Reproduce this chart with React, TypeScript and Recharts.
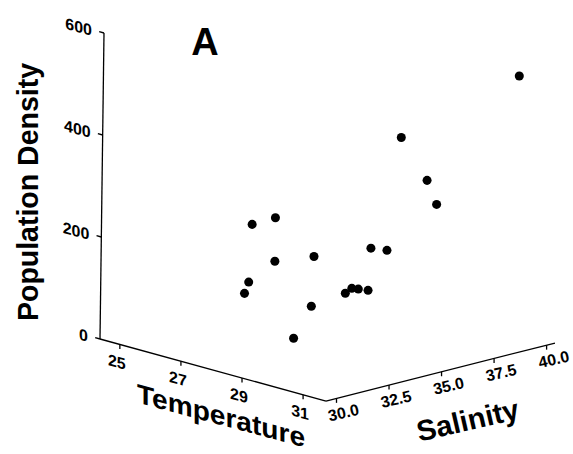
import React from "react";
import {
    ScatterChart,
    Scatter,
    XAxis,
    YAxis,
    ZAxis,
    ReferenceLine,
    Customized,
} from "recharts";

// observations (temperature °C, salinity, population density)
const temperature = [28.6, 28.6, 28.3, 29.2, 28.7, 30.6, 30.1, 28.9, 29.7, 29.5, 29.3, 30.1, 29.3, 30.1, 29.4, 29.9, 29.8, 31.2];
const salinity = [30.2, 30.4, 31.0, 30.8, 31.5, 30.6, 31.2, 32.1, 33.4, 34.0, 34.6, 33.9, 35.2, 34.8, 36.5, 37.0, 37.6, 39.5];
const density = [152, 172, 274, 304, 203, 253, 141, 49, 137, 137, 126, 144, 200, 213, 405, 324, 269, 524];

const tempTicks = [25, 27, 29, 31];
const salTicks = [30, 32.5, 35, 37.5, 40];
const densTicks = [0, 200, 400, 600];

const W = 573;
const H = 454;

// 3D box extents
const T_MIN = 24.35;
const T_MAX = 31.75;
const S_MIN = 29.5;
const S_MAX = 40.4;
const Z_MAX = 600;

// oblique projection of the box onto the chart plane
const ORIGIN = { x: 100, y: 339 };
const T_VEC = { x: 30.54, y: 8.38 };
const S_VEC = { x: 21.01, y: -5.32 };
const Z_VEC = { x: 0, y: -0.51 };
const Z_LEAN = 4 / 600;

function proj(t: number, s: number, z: number, lean = false) {
    const dt = t - T_MIN;
    const ds = s - S_MIN;
    return {
        x: ORIGIN.x + dt * T_VEC.x + ds * S_VEC.x + z * Z_VEC.x + (lean ? z * Z_LEAN : 0),
        y: ORIGIN.y + dt * T_VEC.y + ds * S_VEC.y + z * Z_VEC.y,
    };
}

const points = temperature.map((t, i) => proj(t, salinity[i], density[i]));

const font = "'Liberation Sans', Arial, Helvetica, sans-serif";
const axisStyle = { stroke: "#000", strokeWidth: 1.3 };

function Labels() {
    return (
        <g fontFamily={font} fontWeight="bold" fill="#000">
            <text x={205} y={55} fontSize={38} textAnchor="middle">A</text>

            <text
                transform="translate(38,192) rotate(-90)"
                fontSize={29}
                textAnchor="middle"
                textLength={258}
                lengthAdjust="spacingAndGlyphs"
            >
                Population Density
            </text>
            <text
                transform="translate(221,425) skewY(15)"
                fontSize={27}
                textAnchor="middle"
                textLength={168}
                lengthAdjust="spacingAndGlyphs"
            >
                Temperature
            </text>
            <text
                transform="translate(470,430) rotate(-13)"
                fontSize={29}
                textAnchor="middle"
                textLength={104}
                lengthAdjust="spacingAndGlyphs"
            >
                Salinity
            </text>

            {densTicks.map((d) => {
                const p = proj(T_MIN, S_MIN, d, true);
                return (
                    <text
                        key={"d" + d}
                        transform={`translate(${p.x - 12},${p.y + 3}) skewY(15)`}
                        fontSize={16}
                        textAnchor="end"
                    >
                        {d}
                    </text>
                );
            })}
            {tempTicks.map((t) => {
                const p = proj(t, S_MIN, 0);
                return (
                    <text
                        key={"t" + t}
                        transform={`translate(${p.x - 3},${p.y + 23}) skewY(15)`}
                        fontSize={16}
                        textAnchor="middle"
                    >
                        {t}
                    </text>
                );
            })}
            {salTicks.map((s) => {
                const p = proj(T_MAX, s, 0);
                return (
                    <text
                        key={"s" + s}
                        transform={`translate(${p.x + 7},${p.y + 14}) rotate(-13)`}
                        y={5.7}
                        fontSize={16}
                        textAnchor="middle"
                    >
                        {s.toFixed(1)}
                    </text>
                );
            })}
        </g>
    );
}

export default function App() {
    const corner = proj(T_MIN, S_MIN, 0);
    const front = proj(T_MAX, S_MIN, 0);
    const right = proj(T_MAX, S_MAX, 0);
    const top = proj(T_MIN, S_MIN, Z_MAX, true);

    return (
        <div style={{ position: "absolute", left: 0, top: 0, background: "#fff" }}>
            <ScatterChart width={W} height={H} margin={{ top: 0, right: 0, bottom: 0, left: 0 }}>
                <XAxis type="number" dataKey="x" domain={[0, W]} hide allowDataOverflow />
                <YAxis type="number" dataKey="y" domain={[0, H]} reversed hide allowDataOverflow />
                <ZAxis range={[85, 85]} />

                {/* box edges */}
                <ReferenceLine segment={[corner, front]} ifOverflow="visible" {...axisStyle} />
                <ReferenceLine segment={[front, right]} ifOverflow="visible" {...axisStyle} />
                <ReferenceLine segment={[corner, top]} ifOverflow="visible" {...axisStyle} />

                {/* tick marks */}
                {densTicks.map((d) => {
                    const p = proj(T_MIN, S_MIN, d, true);
                    return (
                        <ReferenceLine
                            key={"dt" + d}
                            segment={[p, { x: p.x - 4.8, y: p.y - 1.3 }]}
                            ifOverflow="visible"
                            {...axisStyle}
                        />
                    );
                })}
                {tempTicks.map((t) => {
                    const p = proj(t, S_MIN, 0);
                    return (
                        <ReferenceLine
                            key={"tt" + t}
                            segment={[p, { x: p.x, y: p.y + 4.5 }]}
                            ifOverflow="visible"
                            {...axisStyle}
                        />
                    );
                })}
                {salTicks.map((s) => {
                    const p = proj(T_MAX, s, 0);
                    return (
                        <ReferenceLine
                            key={"st" + s}
                            segment={[p, { x: p.x, y: p.y + 4.5 }]}
                            ifOverflow="visible"
                            {...axisStyle}
                        />
                    );
                })}

                <Scatter data={points} fill="#000" isAnimationActive={false} />
                <Customized component={<Labels />} />
            </ScatterChart>
        </div>
    );
}
